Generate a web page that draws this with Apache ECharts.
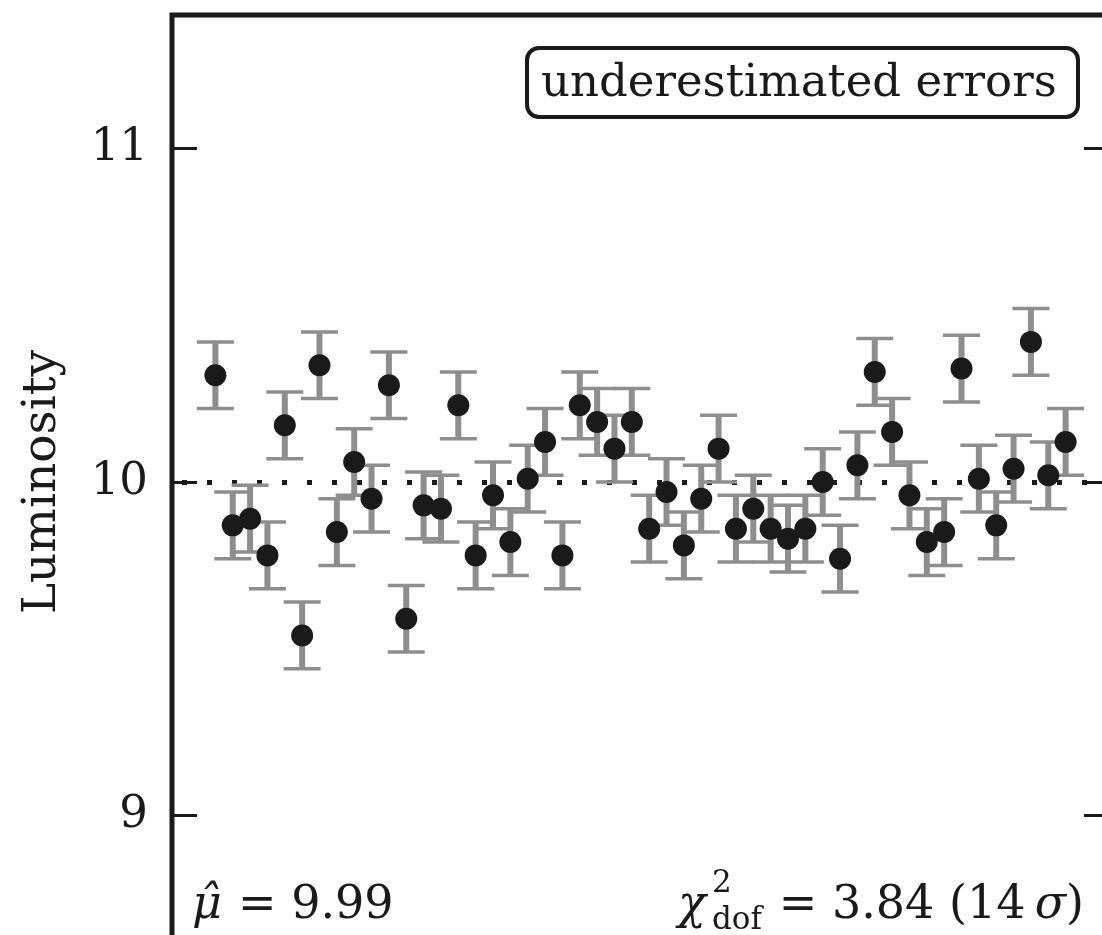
<!DOCTYPE html>
<html>
<head>
<meta charset="utf-8">
<script src="https://cdn.jsdelivr.net/npm/echarts@6/dist/echarts.min.js"></script>
<style>
  html, body { margin: 0; padding: 0; background: #fff; overflow: hidden; }
  #chart { width: 1130px; height: 970px; }
</style>
</head>
<body>
<div id="chart"></div>
<script>
// Measurement index (1..50)
const sampleIndex = [
  1, 2, 3, 4, 5, 6, 7, 8, 9, 10,
  11, 12, 13, 14, 15, 16, 17, 18, 19, 20,
  21, 22, 23, 24, 25, 26, 27, 28, 29, 30,
  31, 32, 33, 34, 35, 36, 37, 38, 39, 40,
  41, 42, 43, 44, 45, 46, 47, 48, 49, 50
];
// Measured luminosity
const luminosity = [
  10.32, 9.87, 9.89, 9.78, 10.17, 9.54, 10.35, 9.85, 10.06, 9.95,
  10.29, 9.59, 9.93, 9.92, 10.23, 9.78, 9.96, 9.82, 10.01, 10.12,
  9.78, 10.23, 10.18, 10.10, 10.18, 9.86, 9.97, 9.81, 9.95, 10.10,
  9.86, 9.92, 9.86, 9.83, 9.86, 10.00, 9.77, 10.05, 10.33, 10.15,
  9.96, 9.82, 9.85, 10.34, 10.01, 9.87, 10.04, 10.42, 10.02, 10.12
];
// Quoted 1-sigma errors
const sigma = [
  0.1, 0.1, 0.1, 0.1, 0.1, 0.1, 0.1, 0.1, 0.1, 0.1,
  0.1, 0.1, 0.1, 0.1, 0.1, 0.1, 0.1, 0.1, 0.1, 0.1,
  0.1, 0.1, 0.1, 0.1, 0.1, 0.1, 0.1, 0.1, 0.1, 0.1,
  0.1, 0.1, 0.1, 0.1, 0.1, 0.1, 0.1, 0.1, 0.1, 0.1,
  0.1, 0.1, 0.1, 0.1, 0.1, 0.1, 0.1, 0.1, 0.1, 0.1
];
const yTicks = [9, 10, 11];
const trueValue = 10;
const panelLabel = 'underestimated errors';
const muHatText = '9.99';
const chi2Text = '3.84';
const sigmaText = '14';

const SERIF = '"DejaVu Serif", "Liberation Serif", serif';
const INK = '#1a1a1a';
const BAR = '#8e8e8e';

const points = sampleIndex.map((x, i) => [x, luminosity[i], sigma[i]]);

const chart = echarts.init(document.getElementById('chart'), null, { renderer: 'canvas' });

const yTickCommon = {
  show: true,
  inside: true,
  length: 25,
  customValues: yTicks,
  lineStyle: { color: INK, width: 3 }
};

chart.setOption({
  animation: false,
  backgroundColor: '#ffffff',
  grid: {
    left: 172, top: 15, width: 937, height: 934,
    outerBoundsMode: 'none', containLabel: false,
    show: true, borderColor: INK, borderWidth: 5, backgroundColor: '#ffffff'
  },
  xAxis: {
    type: 'value', min: -1.5, max: 52.5,
    axisLine: { show: false, onZero: false }, axisTick: { show: false },
    axisLabel: { show: false }, splitLine: { show: false }
  },
  yAxis: [
    {
      type: 'value', min: 8.6, max: 11.4, position: 'left',
      name: 'Luminosity', nameLocation: 'middle', nameGap: 106,
      nameMoveOverlap: false,
      nameTextStyle: { fontFamily: SERIF, fontSize: 47, color: INK },
      axisLine: { show: false, onZero: false },
      axisTick: yTickCommon,
      axisLabel: {
        show: true, customValues: yTicks, margin: 24,
        fontFamily: SERIF, fontSize: 45, color: INK
      },
      splitLine: { show: false }
    },
    {
      type: 'value', min: 8.6, max: 11.4, position: 'right',
      axisLine: { show: false, onZero: false },
      axisTick: yTickCommon,
      axisLabel: { show: false },
      splitLine: { show: false }
    }
  ],
  series: [
    {
      // error bars with caps
      type: 'custom',
      z: 2,
      data: points,
      renderItem: function (params, api) {
        const x = api.value(0), y = api.value(1), e = api.value(2);
        const top = api.coord([x, y + e]);
        const bot = api.coord([x, y - e]);
        const cap = 18.5;
        return {
          type: 'group',
          children: [
            { type: 'line', shape: { x1: top[0], y1: top[1], x2: bot[0], y2: bot[1] },
              style: { stroke: BAR, lineWidth: 6 } },
            { type: 'line', shape: { x1: top[0] - cap, y1: top[1], x2: top[0] + cap, y2: top[1] },
              style: { stroke: BAR, lineWidth: 3.5 } },
            { type: 'line', shape: { x1: bot[0] - cap, y1: bot[1], x2: bot[0] + cap, y2: bot[1] },
              style: { stroke: BAR, lineWidth: 3.5 } }
          ]
        };
      },
      markLine: {
        silent: true,
        symbol: ['none', 'none'],
        label: { show: false },
        z: 1,
        lineStyle: { color: INK, width: 5, type: [5, 20], dashOffset: 15, cap: 'butt' },
        data: [{ yAxis: trueValue }]
      }
    },
    {
      type: 'scatter',
      z: 3,
      symbol: 'circle',
      symbolSize: 22,
      itemStyle: { color: INK, opacity: 1 },
      data: points.map(p => [p[0], p[1]])
    }
  ],
  graphic: [
    {
      type: 'rect', z: 10,
      shape: { x: 527, y: 48, width: 551, height: 69, r: 12 },
      style: { fill: '#ffffff', stroke: INK, lineWidth: 4 }
    },
    {
      type: 'text', z: 11, x: 541, y: 84,
      style: { text: panelLabel, fontFamily: SERIF, fontSize: 45, fill: INK,
               textAlign: 'left', textVerticalAlign: 'middle' }
    },
    // mean estimate, lower left
    {
      type: 'text', z: 11, x: 192, y: 906,
      style: { text: 'μ̂', fontFamily: SERIF, fontStyle: 'italic', fontSize: 46, fill: INK,
               textAlign: 'left', textVerticalAlign: 'middle' }
    },
    {
      type: 'text', z: 11, x: 238, y: 906,
      style: { text: '= ' + muHatText, fontFamily: SERIF, fontSize: 46, fill: INK,
               textAlign: 'left', textVerticalAlign: 'middle' }
    },
    // reduced chi-square, lower right
    {
      type: 'text', z: 11, x: 678, y: 906,
      style: { text: 'χ', fontFamily: SERIF, fontStyle: 'italic', fontSize: 46, fill: INK,
               textAlign: 'left', textVerticalAlign: 'middle' }
    },
    {
      type: 'text', z: 11, x: 712, y: 884,
      style: { text: '2', fontFamily: SERIF, fontSize: 31, fill: INK,
               textAlign: 'left', textVerticalAlign: 'middle' }
    },
    {
      type: 'text', z: 11, x: 712, y: 921,
      style: { text: 'dof', fontFamily: SERIF, fontSize: 31, fill: INK,
               textAlign: 'left', textVerticalAlign: 'middle' }
    },
    {
      type: 'text', z: 11, x: 1084, y: 906,
      style: {
        text: '{n|= ' + chi2Text + ' (' + sigmaText + '\u2009}{i|σ}{n|)}',
        textAlign: 'right', textVerticalAlign: 'middle',
        rich: {
          n: { fontFamily: SERIF, fontSize: 46, fill: INK, color: INK },
          i: { fontFamily: SERIF, fontSize: 46, fontStyle: 'italic', fill: INK, color: INK }
        }
      }
    }
  ]
});
</script>
</body>
</html>
